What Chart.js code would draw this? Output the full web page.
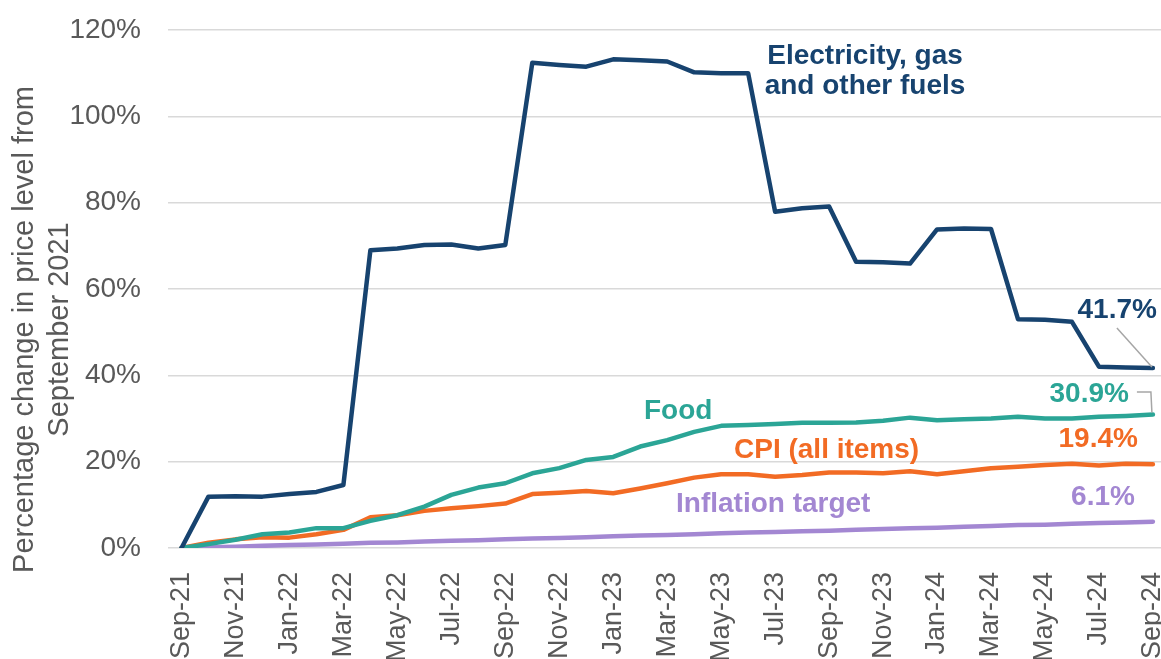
<!DOCTYPE html>
<html lang="en">
<head>
    <meta charset="UTF-8">
    <title>Price level change since September 2021</title>
    <style>
        html, body { margin: 0; padding: 0; background: #fff; }
        .chart-container { width: 1161px; height: 659px; position: relative; }
    </style>
</head>
<body>
    <div class="chart-container">
        <canvas id="myChart"></canvas>
    </div>

    <script src="https://cdn.jsdelivr.net/npm/chart.js@4.4.1/dist/chart.umd.min.js"></script>
    <script>
        // months, Sep-21 .. Sep-24
        const months = ['Sep-21','Oct-21','Nov-21','Dec-21','Jan-22','Feb-22','Mar-22','Apr-22','May-22','Jun-22',
            'Jul-22','Aug-22','Sep-22','Oct-22','Nov-22','Dec-22','Jan-23','Feb-23','Mar-23','Apr-23',
            'May-23','Jun-23','Jul-23','Aug-23','Sep-23','Oct-23','Nov-23','Dec-23','Jan-24','Feb-24',
            'Mar-24','Apr-24','May-24','Jun-24','Jul-24','Aug-24','Sep-24'];

        const energy = [0, 11.9, 12.0, 11.9, 12.5, 13.0, 14.6, 69.0, 69.4, 70.2,
            70.3, 69.4, 70.2, 112.4, 111.9, 111.5, 113.2, 113.0, 112.7, 110.2,
            110.0, 110.0, 77.9, 78.7, 79.1, 66.3, 66.2, 65.9, 73.8, 74.0,
            73.9, 53.0, 52.9, 52.4, 42.0, 41.8, 41.7];

        const food = [0, 0.9, 1.9, 3.2, 3.6, 4.6, 4.6, 6.3, 7.6, 9.6,
            12.3, 14.0, 15.0, 17.3, 18.5, 20.4, 21.1, 23.5, 25.0, 26.9,
            28.3, 28.5, 28.7, 29.0, 29.0, 29.1, 29.5, 30.2, 29.6, 29.8,
            30.0, 30.4, 30.0, 30.0, 30.4, 30.6, 30.9];

        const cpi = [0, 1.2, 2.0, 2.5, 2.4, 3.2, 4.2, 7.1, 7.6, 8.6,
            9.2, 9.7, 10.3, 12.5, 12.8, 13.2, 12.7, 13.8, 15.0, 16.3,
            17.1, 17.1, 16.5, 16.9, 17.5, 17.5, 17.3, 17.8, 17.1, 17.8,
            18.5, 18.8, 19.2, 19.5, 19.1, 19.5, 19.4];

        const target = [0.0, 0.2, 0.3, 0.5, 0.7, 0.8, 1.0, 1.2, 1.3, 1.5,
            1.7, 1.8, 2.0, 2.2, 2.3, 2.5, 2.7, 2.9, 3.0, 3.2,
            3.4, 3.6, 3.7, 3.9, 4.0, 4.2, 4.4, 4.6, 4.7, 4.9,
            5.1, 5.3, 5.4, 5.6, 5.8, 5.9, 6.1];

        const yTicks = [0, 20, 40, 60, 80, 100, 120];
        const yTitle = ['Percentage change in price level from', 'September 2021'];

        const NAVY = '#17436F';
        const TEAL = '#2BA596';
        const ORANGE = '#F26B24';
        const PURPLE = '#A387D2';
        const GREY_TXT = '#595959';
        const FONT = '"Liberation Sans", Arial, sans-serif';

        function toPoints(arr) {
            return arr.map((v, i) => ({ x: i, y: v }));
        }

        function lineSet(label, arr, color) {
            return {
                label: label,
                data: toPoints(arr),
                borderColor: color,
                backgroundColor: color,
                borderWidth: 4.5,
                pointRadius: 0,
                tension: 0,
                borderJoinStyle: 'round',
                borderCapStyle: 'round'
            };
        }

        // text labels drawn next to the lines, plus the y-axis title
        const labelPlugin = {
            id: 'lineLabels',
            afterDatasetsDraw(chart) {
                const c = chart.ctx;
                const xs = chart.scales.x;
                const ys = chart.scales.y;
                const n = months.length - 1;
                const lastX = xs.getPixelForValue(n);

                c.save();
                // axis title, centred on the whole canvas height
                c.font = '29px ' + FONT;
                c.fillStyle = GREY_TXT;
                c.textAlign = 'center';
                c.textBaseline = 'alphabetic';
                yTitle.forEach((line, i) => {
                    c.save();
                    c.translate(33 + i * 35, chart.height / 2);
                    c.rotate(-Math.PI / 2);
                    c.fillText(line, 0, 0);
                    c.restore();
                });

                c.font = 'bold 28px ' + FONT;

                // series names
                c.textAlign = 'center';
                c.fillStyle = NAVY;
                c.fillText('Electricity, gas', 865, 64);
                c.fillText('and other fuels', 865, 94);

                c.textAlign = 'left';
                c.fillStyle = TEAL;
                c.fillText('Food', 644, 419);
                c.fillStyle = ORANGE;
                c.fillText('CPI (all items)', 734, 458);
                c.fillStyle = PURPLE;
                c.fillText('Inflation target', 676, 512);

                // end values
                c.textAlign = 'right';
                c.fillStyle = NAVY;
                c.fillText(energy[n].toFixed(1) + '%', lastX + 4, 318);
                c.fillStyle = TEAL;
                c.fillText(food[n].toFixed(1) + '%', lastX - 24, 402);
                c.fillStyle = ORANGE;
                c.fillText(cpi[n].toFixed(1) + '%', lastX - 15, 447);
                c.fillStyle = PURPLE;
                c.fillText(target[n].toFixed(1) + '%', lastX - 18, 505);

                // leader lines
                c.strokeStyle = '#A6A6A6';
                c.lineWidth = 1.5;
                c.beginPath();
                c.moveTo(lastX - 36, 328);
                c.lineTo(lastX - 1, ys.getPixelForValue(energy[n]) - 1);
                c.stroke();

                c.beginPath();
                c.moveTo(lastX - 16, 392);
                c.lineTo(lastX - 2, 392);
                c.lineTo(lastX - 1, ys.getPixelForValue(food[n]) - 2);
                c.stroke();
                c.restore();
            }
        };

        document.addEventListener('DOMContentLoaded', function() {
            const ctx = document.getElementById('myChart');

            const config = {
                type: 'line',
                data: {
                    datasets: [
                        lineSet('Electricity, gas and other fuels', energy, NAVY),
                        lineSet('Food', food, TEAL),
                        lineSet('CPI (all items)', cpi, ORANGE),
                        lineSet('Inflation target', target, PURPLE)
                    ]
                },
                options: {
                    responsive: true,
                    maintainAspectRatio: false,
                    animation: false,
                    layout: { padding: { top: 30, right: 0, left: 0, bottom: 0 } },
                    plugins: {
                        legend: { display: false },
                        tooltip: { enabled: false }
                    },
                    scales: {
                        x: {
                            type: 'linear',
                            min: -0.5,
                            max: 36.3,
                            grid: { display: false },
                            border: { display: false },
                            afterFit(scale) {
                                scale.height = 111;
                                scale.paddingLeft = 0;
                                scale.paddingRight = 0;
                            },
                            ticks: {
                                stepSize: 2,
                                includeBounds: false,
                                autoSkip: false,
                                minRotation: 90,
                                maxRotation: 90,
                                padding: 16,
                                color: GREY_TXT,
                                font: { family: FONT, size: 27 },
                                callback: (v) => months[v] || ''
                            }
                        },
                        y: {
                            min: yTicks[0],
                            max: yTicks[yTicks.length - 1],
                            afterFit(scale) {
                                scale.width = 168;
                                scale.paddingTop = 0;
                                scale.paddingBottom = 0;
                            },
                            grid: { color: '#D9D9D9', lineWidth: 1.5, drawTicks: false },
                            border: { display: false },
                            ticks: {
                                stepSize: 20,
                                padding: 27,
                                color: GREY_TXT,
                                font: { family: FONT, size: 28 },
                                callback: (v) => v + '%'
                            }
                        }
                    }
                },
                plugins: [labelPlugin]
            };

            new Chart(ctx, config);
        });
    </script>
</body>
</html>
